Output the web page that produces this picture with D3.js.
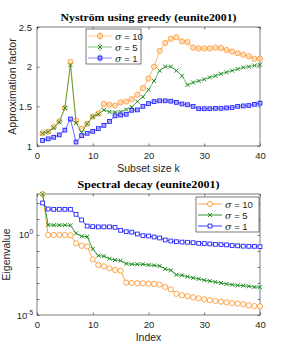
<!DOCTYPE html>
<html>
<head>
<meta charset="utf-8">
<script src="https://cdn.jsdelivr.net/npm/d3@7"></script>
<style>
  body { margin: 0; background: #fff; }
  svg text { fill: #262626; }
</style>
</head>
<body>
<div class="chart"></div>
<script>
var subsetK = d3.range(1, 41);

var greedy10 = [1.16, 1.18, 1.24, 1.31, 1.48, 2.06, 1.32, 1.215, 1.28, 1.37,
  1.41, 1.53, 1.52, 1.51, 1.55, 1.56, 1.59, 1.645, 1.73, 1.85,
  2.00, 2.20, 2.30, 2.35, 2.37, 2.32, 2.31, 2.24, 2.23, 2.23,
  2.23, 2.24, 2.235, 2.21, 2.19, 2.17, 2.15, 2.13, 2.10, 2.10];
var greedy5 = [1.16, 1.18, 1.23, 1.30, 1.48, 2.02, 1.29, 1.17, 1.28, 1.37,
  1.40, 1.455, 1.43, 1.425, 1.43, 1.46, 1.49, 1.56, 1.62, 1.71,
  1.82, 1.95, 2.00, 2.00, 1.95, 1.885, 1.77, 1.80, 1.82, 1.84,
  1.865, 1.885, 1.91, 1.93, 1.95, 1.97, 1.99, 2.00, 2.015, 2.025];
var greedy1 = [1.07, 1.09, 1.11, 1.14, 1.20, 1.34, 1.05, 1.13, 1.16, 1.185,
  1.22, 1.26, 1.31, 1.38, 1.39, 1.40, 1.45, 1.455, 1.50, 1.535,
  1.56, 1.57, 1.57, 1.565, 1.55, 1.53, 1.52, 1.50, 1.47, 1.47,
  1.47, 1.475, 1.475, 1.48, 1.485, 1.50, 1.505, 1.51, 1.525, 1.54];

var eig10 = [363, 1.0, 1.0, 1.0, 1.0, 0.95, 0.30, 0.21, 0.19, 0.030,
  0.0133, 0.011, 0.0083, 0.0065, 0.0059, 1.05e-3, 1.0e-3, 9.5e-4, 9.5e-4, 9.1e-4,
  8.7e-4, 7.9e-4, 5.6e-4, 4.0e-4, 2.1e-4, 1.7e-4, 1.5e-4, 1.26e-4, 1.1e-4, 9.5e-5,
  8.3e-5, 7.5e-5, 6.8e-5, 6.2e-5, 5.6e-5, 5.1e-5, 4.7e-5, 4.0e-5, 3.6e-5, 3.5e-5];
var eig5 = [363, 4.2, 4.1, 4.1, 4.1, 4.0, 1.26, 0.83, 0.79, 0.133,
  0.051, 0.047, 0.033, 0.0275, 0.025, 0.0162, 0.0148, 0.0148, 0.0148, 0.0133,
  0.0126, 0.0115, 7.5e-3, 6.2e-3, 3.3e-3, 3.0e-3, 2.5e-3, 2.1e-3, 1.8e-3, 1.5e-3,
  1.33e-3, 1.15e-3, 1.0e-3, 8.7e-4, 7.9e-4, 7.1e-4, 6.8e-4, 6.2e-4, 5.6e-4, 5.4e-4];
var eig1 = [100, 42, 40, 40, 40, 40, 19.5, 8.7, 3.6, 3.3,
  3.2, 3.2, 3.2, 3.0, 1.95, 1.6, 1.5, 1.15, 0.91, 0.87,
  0.75, 0.65, 0.49, 0.42, 0.38, 0.36, 0.35, 0.33, 0.30, 0.29,
  0.275, 0.26, 0.25, 0.24, 0.22, 0.21, 0.20, 0.195, 0.195, 0.186];

var seriesNames = ["\u03c3 = 10", "\u03c3 = 5", "\u03c3 = 1"];
var seriesColors = ["#ff9933", "#1e8c1e", "#2424ff"];
var seriesMarkers = ["circle", "x", "square"];
var xTicks = [0, 10, 20, 30, 40];
var topYTicks = [1, 1.5, 2, 2.5];
var logLabelExp = [0, -5];

var svg = d3.select(".chart").append("svg")
  .attr("width", 287).attr("height", 354);

var sans = "Liberation Sans, Arial, sans-serif";

function drawMarker(g, kind, x, y, color, light) {
  if (kind === "circle") {
    g.append("circle").attr("cx", x).attr("cy", y).attr("r", 2.6)
      .attr("fill", light ? "#ffd9b0" : "#fff").attr("fill-opacity", light ? 0.6 : 1)
      .attr("stroke", color).attr("stroke-width", 0.9);
  } else if (kind === "x") {
    var s = 2;
    g.append("path")
      .attr("d", "M" + (x - s) + "," + (y - s) + "L" + (x + s) + "," + (y + s) +
        "M" + (x - s) + "," + (y + s) + "L" + (x + s) + "," + (y - s))
      .attr("stroke", color).attr("stroke-width", 1);
  } else {
    var h = 1.9;
    g.append("rect").attr("x", x - h).attr("y", y - h).attr("width", 2 * h).attr("height", 2 * h)
      .attr("fill", light ? "#9a9aff" : "#fff").attr("fill-opacity", light ? 0.6 : 1)
      .attr("stroke", color).attr("stroke-width", 0.9);
  }
}

function drawPanel(opt) {
  var g = svg.append("g");
  var x = d3.scaleLinear().domain([0, 40]).range([opt.left, opt.right]);
  var y = opt.y;

  g.append("rect").attr("x", opt.left).attr("y", opt.top)
    .attr("width", opt.right - opt.left).attr("height", opt.bottom - opt.top)
    .attr("fill", "#fff").attr("stroke", "#262626").attr("stroke-width", 0.6);

  g.append("g").attr("transform", "translate(0," + opt.bottom + ")")
    .call(d3.axisBottom(x).tickValues(xTicks).tickSizeInner(-2.5).tickSizeOuter(0).tickPadding(6))
    .call(function (a) { a.select(".domain").remove(); });
  g.append("g").attr("transform", "translate(0," + opt.top + ")")
    .call(d3.axisTop(x).tickValues(xTicks).tickSizeInner(-2.5).tickSizeOuter(0).tickFormat(""))
    .call(function (a) { a.select(".domain").remove(); });

  var yAxis = g.append("g").attr("transform", "translate(" + opt.left + ",0)")
    .call(d3.axisLeft(y).tickValues(opt.yTicks).tickSizeInner(-2.5).tickSizeOuter(0)
      .tickPadding(5).tickFormat(opt.yFormat))
    .call(function (a) { a.select(".domain").remove(); });
  g.append("g").attr("transform", "translate(" + opt.right + ",0)")
    .call(d3.axisRight(y).tickValues(opt.yTicks).tickSizeInner(-2.5).tickSizeOuter(0).tickFormat(""))
    .call(function (a) { a.select(".domain").remove(); });

  g.selectAll(".tick line").attr("stroke", "#262626").attr("stroke-width", 0.6);
  g.selectAll(".tick text").attr("font-family", sans)
    .attr("font-size", "9.5px").attr("fill", "#262626");

  if (opt.logLabels) {
    opt.logLabels.forEach(function (e) {
      var t = yAxis.append("text").attr("x", -4).attr("y", y(Math.pow(10, e)) + 3.5)
        .attr("text-anchor", "end").attr("font-family", sans).attr("font-size", "9.5px");
      t.append("tspan").text("10");
      t.append("tspan").attr("dy", -4).attr("font-size", "6.5px").text(e < 0 ? "-" + (-e) : e);
    });
  }

  opt.series.forEach(function (vals, i) {
    var line = d3.line().x(function (d, j) { return x(subsetK[j]); })
      .y(function (d) { return y(d); });
    g.append("path").datum(vals).attr("d", line).attr("fill", "none")
      .attr("stroke", seriesColors[i]).attr("stroke-width", 0.9)
      .attr("stroke-opacity", opt.light ? 0.75 : 1);
    var mg = g.append("g");
    vals.forEach(function (v, j) {
      drawMarker(mg, seriesMarkers[i], x(subsetK[j]), y(v), seriesColors[i], opt.light);
    });
  });

  svg.append("text").attr("x", (opt.left + opt.right) / 2).attr("y", opt.top - 6)
    .attr("text-anchor", "middle").attr("font-family", "Liberation Serif, DejaVu Serif, serif")
    .attr("font-weight", "bold").attr("font-size", "11px")
    .attr("textLength", opt.titleW).attr("lengthAdjust", "spacingAndGlyphs")
    .style("fill", "#000").text(opt.title);

  svg.append("text").attr("x", (opt.left + opt.right) / 2).attr("y", opt.bottom + 26)
    .attr("text-anchor", "middle").attr("font-family", sans)
    .attr("font-size", "10.5px").text(opt.xLabel);

  svg.append("text")
    .attr("transform", "translate(" + opt.yLabelX + "," + ((opt.top + opt.bottom) / 2) + ") rotate(-90)")
    .attr("text-anchor", "middle").attr("font-family", sans)
    .attr("font-size", "10.5px").text(opt.yLabel);

  var lg = svg.append("g").attr("transform", "translate(" + opt.legX + "," + opt.legY + ")");
  lg.append("rect").attr("width", opt.legW).attr("height", 35)
    .attr("fill", "#fff").attr("stroke", "#262626").attr("stroke-width", 0.6);
  seriesNames.forEach(function (name, i) {
    var yy = 7 + i * 11;
    lg.append("line").attr("x1", 2).attr("x2", 26).attr("y1", yy).attr("y2", yy)
      .attr("stroke", seriesColors[i]).attr("stroke-width", 0.9)
      .attr("stroke-opacity", opt.light ? 0.6 : 1);
    if (opt.light) {
      lg.append("line").attr("x1", 14).attr("x2", 14).attr("y1", yy - 4).attr("y2", yy + 4)
        .attr("stroke", seriesColors[i]).attr("stroke-width", 0.9).attr("stroke-opacity", 0.6);
    }
    drawMarker(lg, seriesMarkers[i], 14, yy, seriesColors[i], opt.light);
    var t = lg.append("text").attr("x", 29).attr("y", yy + 3.5)
      .attr("font-family", sans).attr("font-size", "9.5px");
    t.append("tspan").attr("font-family", "DejaVu Serif, serif").attr("font-style", "italic").text("\u03c3");
    t.append("tspan").text(name.slice(1));
  });
}

drawPanel({
  left: 37, right: 260, top: 27, bottom: 146,
  y: d3.scaleLinear().domain([1, 2.5]).range([146, 27]),
  yTicks: topYTicks,
  yFormat: function (d) { return d; },
  series: [greedy10, greedy5, greedy1],
  light: true,
  title: "Nystr\u00f6m using greedy (eunite2001)",
  titleW: 176,
  xLabel: "Subset size k",
  yLabel: "Approximation factor",
  yLabelX: 16,
  legX: 86, legY: 29, legW: 55
});

var eigTop = d3.max(eig10.concat(eig5, eig1));
var decadeTicks = d3.range(-5, 3).map(function (e) { return Math.pow(10, e); });

drawPanel({
  left: 37, right: 260, top: 194, bottom: 315,
  y: d3.scaleLog().domain([1e-5, eigTop]).range([315, 194]),
  yTicks: decadeTicks,
  yFormat: function () { return ""; },
  logLabels: logLabelExp,
  series: [eig10, eig5, eig1],
  light: false,
  title: "Spectral decay (eunite2001)",
  titleW: 142,
  xLabel: "Index",
  yLabel: "Eigenvalue",
  yLabelX: 10,
  legX: 196, legY: 197, legW: 63
});
</script>
</body>
</html>
